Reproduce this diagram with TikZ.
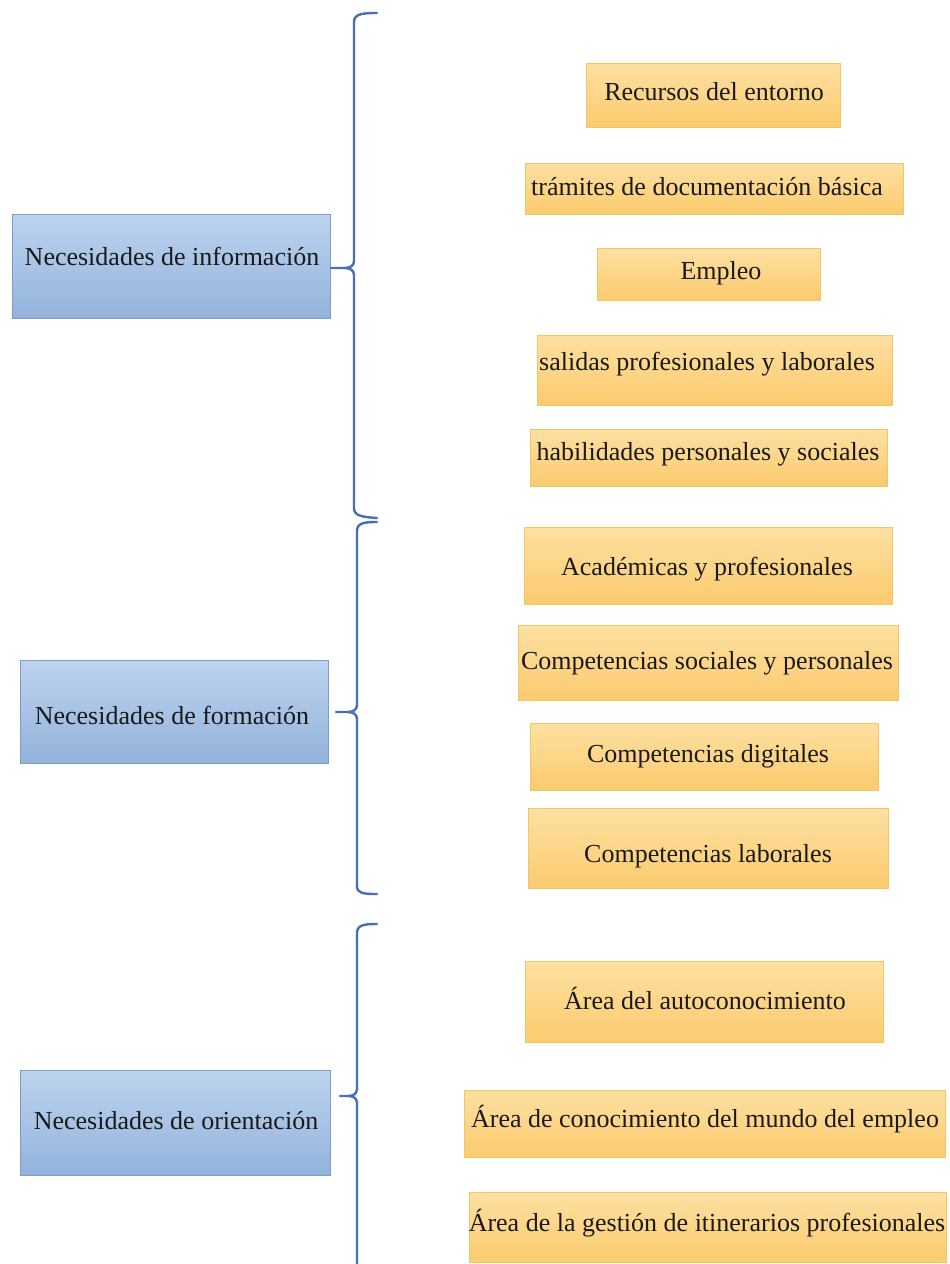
\documentclass[tikz,border=0pt]{standalone}
\usepackage{fontspec}
\setmainfont{Liberation Serif}
\definecolor{bluetop}{HTML}{BDD3EE}
\definecolor{bluebot}{HTML}{93B3DC}
\definecolor{bluedge}{HTML}{7D9CC8}
\definecolor{ortop}{HTML}{FEE0A2}
\definecolor{orbot}{HTML}{FBCB6E}
\definecolor{oredge}{HTML}{F2C662}
\definecolor{bracecol}{HTML}{4A6DB3}
\definecolor{txt}{HTML}{1A1A1A}
\begin{document}
\begin{tikzpicture}[x=1pt,y=-1pt,
  bluebox/.style={draw=bluedge, line width=0.8pt, top color=bluetop, bottom color=bluebot, inner sep=0pt},
  orangebox/.style={draw=oredge, line width=0.8pt, top color=ortop, bottom color=orbot, inner sep=0pt},
  lbl/.style={font=\fontsize{26}{31}\selectfont, text=txt, inner sep=0pt, text height=19pt, text depth=5pt, anchor=center},
  bracestyle/.style={draw=bracecol, line width=2.4pt, line cap=round, line join=round}]
\useasboundingbox[fill=white] (0,0) rectangle (950,1264);

% blue boxes
\node[bluebox, minimum width=318pt, minimum height=104pt] (b1) at (171,266) {};
\node[bluebox, minimum width=308pt, minimum height=103pt] (b2) at (174,711.5) {};
\node[bluebox, minimum width=310pt, minimum height=105pt] (b3) at (175,1122.5) {};
\node[lbl] (t1) at (172,258) {Necesidades de información};
\node[lbl] (t2) at (172,717) {Necesidades de formación};
\node[lbl] (t3) at (176,1122) {Necesidades de orientación};

% orange boxes
\node[orangebox, minimum width=254pt, minimum height=64pt] (o1) at (713,95) {};
\node[orangebox, minimum width=378pt, minimum height=51pt] (o2) at (714,188.5) {};
\node[orangebox, minimum width=223pt, minimum height=52pt] (o3) at (708.5,274) {};
\node[orangebox, minimum width=355pt, minimum height=70pt] (o4) at (714.5,370) {};
\node[orangebox, minimum width=357pt, minimum height=57pt] (o5) at (708.5,457.5) {};
\node[orangebox, minimum width=368pt, minimum height=77pt] (o6) at (708,565.5) {};
\node[orangebox, minimum width=380pt, minimum height=75pt] (o7) at (708,662.5) {};
\node[orangebox, minimum width=348pt, minimum height=67pt] (o8) at (704,756.5) {};
\node[orangebox, minimum width=360pt, minimum height=80pt] (o9) at (708,848) {};
\node[orangebox, minimum width=358pt, minimum height=81pt] (o10) at (704,1001.5) {};
\node[orangebox, minimum width=481pt, minimum height=67pt] (o11) at (704.5,1123.5) {};
\node[orangebox, minimum width=477pt, minimum height=70pt] (o12) at (707.5,1227) {};

\node[lbl] (l1) at (714,93) {Recursos del entorno};
\node[lbl] (l2) at (707,188) {trámites de documentación básica};
\node[lbl] (l3) at (721,272) {Empleo};
\node[lbl] (l4) at (707,363) {salidas profesionales y laborales};
\node[lbl] (l5) at (708,453) {habilidades personales y sociales};
\node[lbl] (l6) at (707,568) {Académicas y profesionales};
\node[lbl] (l7) at (707,662) {Competencias sociales y personales};
\node[lbl] (l8) at (708,755) {Competencias digitales};
\node[lbl] (l9) at (708,855) {Competencias laborales};
\node[lbl] (l10) at (705,1002) {Área del autoconocimiento};
\node[lbl] (l11) at (705,1120) {Área de conocimiento del mundo del empleo};
\node[lbl] (l12) at (707,1224) {Área de la gestión de itinerarios profesionales};

% braces
\path[bracestyle] (377,13) .. controls (362,13) and (354,14) .. (354,22)
  -- (354,261) .. controls (354,266) and (350,268) .. (344,268) -- (331,268)
  (344,268) .. controls (350,268) and (354,270) .. (354,275)
  -- (354,508) .. controls (354,515) and (360,517) .. (377,518);
\path[bracestyle] (377,522) .. controls (364,522) and (357,523) .. (357,531)
  -- (357,705) .. controls (357,710) and (353,712) .. (347,712) -- (336,712)
  (347,712) .. controls (353,712) and (357,714) .. (357,719)
  -- (357,886) .. controls (357,893) and (362,894) .. (377,894);
\path[bracestyle] (377,924) .. controls (364,924) and (357,925) .. (357,933)
  -- (357,1089) .. controls (357,1094) and (353,1096) .. (348,1096) -- (340,1096)
  (348,1096) .. controls (353,1096) and (357,1098) .. (357,1103)
  -- (357,1264);
\end{tikzpicture}
\end{document}
